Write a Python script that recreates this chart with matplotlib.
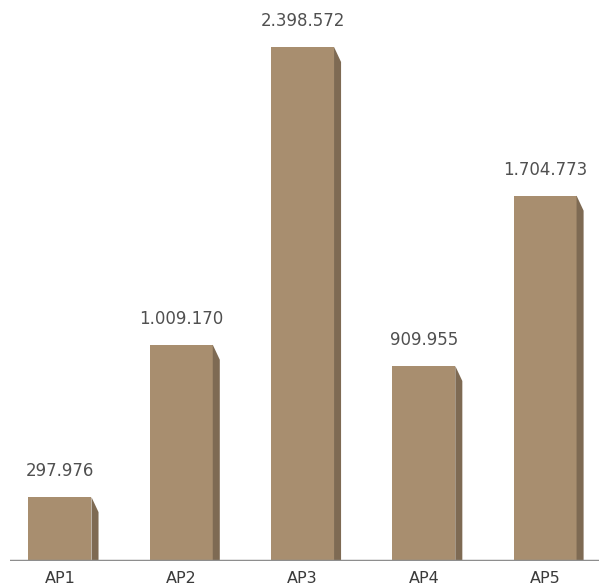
import matplotlib
matplotlib.use("Agg")
import matplotlib.pyplot as plt
from matplotlib.patches import Polygon

categories = ["AP1", "AP2", "AP3", "AP4", "AP5"]
values = [297976, 1009170, 2398572, 909955, 1704773]
labels = ["297.976", "1.009.170", "2.398.572", "909.955", "1.704.773"]

front = "#a88e6f"
side = "#7e6a53"
W, H = 599, 586
base_px = 561
fig = plt.figure(figsize=(W / 100, H / 100), dpi=100)
ax = fig.add_axes([10 / W, 1 - base_px / H, 589 / W, base_px / H])

ymax = max(values) * base_px / 514
ax.set_xlim(-0.412, 4.445)
ax.set_ylim(0, ymax)

bw = 0.52
dx = 0.058
dy = ymax * 15 / base_px
xs = list(range(len(categories)))
ax.bar(xs, values, width=bw, color=front, zorder=2)
for x, v, lab in zip(xs, values, labels):
    r = x + bw / 2
    ax.add_patch(Polygon([(r, 0), (r, v), (r + dx, v - dy), (r + dx, 0)],
                         closed=True, facecolor=side, edgecolor="none", zorder=2))
    ax.annotate(lab, (x, v), xytext=(0, 12), textcoords="offset points",
                ha="center", va="bottom", fontsize=12, color="#505050")

ax.axhline(0, color="#8e8e8e", lw=2.5, zorder=3)
for s in ax.spines.values():
    s.set_visible(False)
ax.set_yticks([])
ax.set_xticks(xs)
ax.set_xticklabels(categories, fontsize=11.5, color="#3a3a3a")
ax.tick_params(axis="x", length=0, pad=7)

fig.savefig("out.png", dpi=100)
